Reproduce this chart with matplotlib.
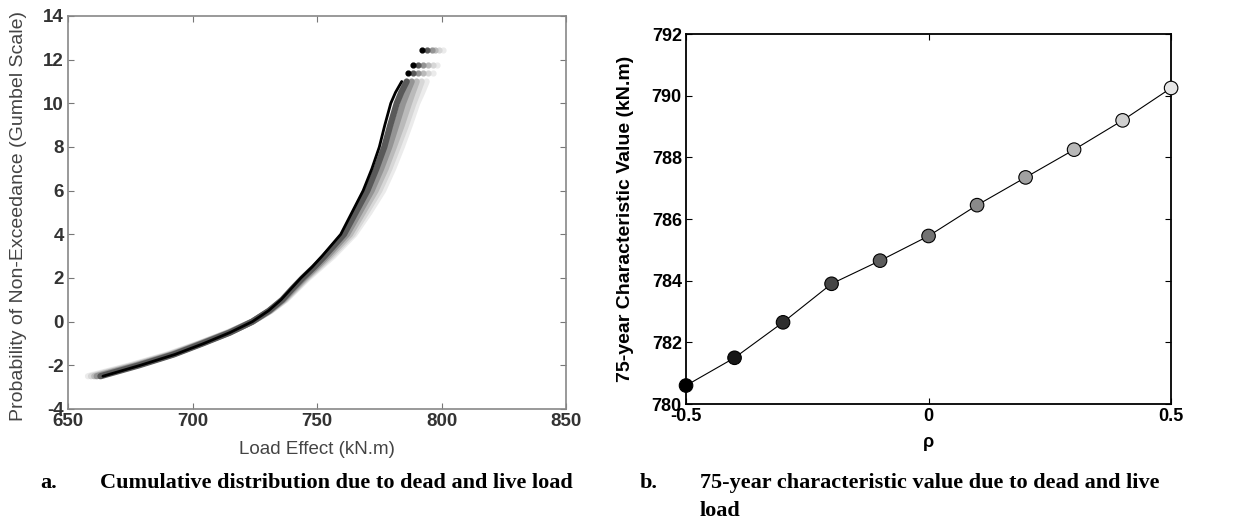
import numpy as np
import matplotlib
matplotlib.use('Agg')
import matplotlib.pyplot as plt

# --- data ---
rho = [-0.5, -0.4, -0.3, -0.2, -0.1, 0.0, 0.1, 0.2, 0.3, 0.4, 0.5]
char_value = [780.6, 781.5, 782.65, 783.9, 784.65, 785.45, 786.45, 787.35, 788.25, 789.2, 790.25]

# panel a: Gumbel reduced variate levels and load effect of a few rho curves there
gumbel_y = [-2.5, -2, -1.5, -1, -0.5, 0, 0.5, 1, 1.5, 2, 2.5, 3, 4, 5, 6, 7, 8, 9, 10, 10.5, 11]
curve_rho = [-0.5, -0.3, -0.1, 0.1, 0.3, 0.5]
load_x = [
    [664.0, 679.0, 693.0, 704.5, 715.0, 724.0, 730.5, 735.5, 739.5, 743.5, 748.0, 752.0, 759.5, 764.0, 768.5, 772.0, 775.0, 777.2, 779.6, 781.5, 784.0],
    [663.0, 678.5, 692.5, 704.0, 715.0, 724.0, 730.7, 736.0, 740.0, 744.2, 748.8, 753.0, 760.8, 765.5, 770.2, 773.8, 777.0, 779.4, 782.0, 783.8, 786.0],
    [661.5, 677.5, 692.0, 703.5, 714.8, 724.0, 731.0, 736.4, 740.6, 744.9, 749.6, 754.0, 762.0, 767.0, 771.9, 775.7, 779.0, 781.8, 784.5, 786.2, 788.0],
    [660.5, 676.8, 691.3, 703.2, 714.5, 724.0, 731.2, 736.8, 741.2, 745.5, 750.3, 754.9, 763.2, 768.4, 773.5, 777.5, 780.8, 784.0, 786.9, 788.4, 790.0],
    [659.2, 675.8, 690.6, 702.8, 714.2, 724.0, 731.4, 737.2, 741.6, 746.0, 750.9, 755.7, 764.2, 769.7, 775.0, 779.0, 782.4, 785.7, 788.7, 790.4, 792.0],
    [658.0, 675.0, 690.0, 702.5, 714.0, 724.0, 731.5, 737.5, 742.0, 746.5, 751.5, 756.5, 765.0, 771.0, 776.5, 780.5, 784.0, 787.2, 790.2, 792.2, 794.0],
]
curve_shade = [0.0, 0.35, 0.58, 0.73, 0.84, 0.92]

# tied maxima at the top (short horizontal rows of points), one x per curve
tie_levels = [11.4, 11.76, 12.45]
tie_x = [
    [786.5, 788.5, 790.5, 792.5, 794.5, 796.5],
    [788.5, 790.5, 792.5, 794.5, 796.5, 798.0],
    [792.0, 794.0, 796.0, 797.5, 799.0, 800.5],
]

plt.rcParams['font.family'] = ['Liberation Sans', 'DejaVu Sans']
plt.rcParams['axes.unicode_minus'] = False

fig = plt.figure(figsize=(12.33, 5.22), dpi=100)

# ---- panel a ----
ax1 = fig.add_axes([0.0552, 0.2165, 0.4039, 0.7529])
for i in range(len(curve_rho) - 1, -1, -1):
    c = plt.cm.gray(curve_shade[i])
    ax1.plot(load_x[i], gumbel_y, color=c, lw=4.5 if i else 2.0, solid_capstyle='round')
    ax1.scatter([row[i] for row in tie_x], tie_levels, s=12, color=c, zorder=3)
ax1.set_xlim(650, 850)
ax1.set_ylim(-4, 14)
ax1.set_xticks([650, 700, 750, 800, 850])
ax1.set_yticks(range(-4, 15, 2))
ax1.tick_params(direction='in', top=True, right=True, length=4, color='#777777',
                labelsize=13.5, labelcolor='#333333', pad=3)
for lab in ax1.get_xticklabels() + ax1.get_yticklabels():
    lab.set_fontweight('bold')
for s in ax1.spines.values():
    s.set_color('#888888')
    s.set_linewidth(1.2)
ax1.set_xlabel('Load Effect (kN.m)', fontsize=13.5, color='#444444', va='top')
ax1.xaxis.set_label_coords(0.5, -0.082)
ax1.set_ylabel('Probability of Non-Exceedance (Gumbel Scale)', fontsize=14,
               color='#444444')
ax1.yaxis.set_label_coords(-0.082, 0.49)

# ---- panel b ----
ax2 = fig.add_axes([0.5564, 0.226, 0.3934, 0.7088])
shades = plt.cm.gray(np.linspace(0.0, 0.9, len(rho)))
ax2.plot(rho, char_value, color='black', lw=0.8, zorder=2)
ax2.scatter(rho, char_value, s=95, c=shades, edgecolors='black', linewidths=0.8,
            zorder=3, clip_on=False)
ax2.set_xlim(-0.5, 0.5)
ax2.set_ylim(780, 792)
ax2.set_xticks([-0.5, 0, 0.5])
ax2.set_xticklabels(['-0.5', '0', '0.5'])
ax2.set_yticks(range(780, 793, 2))
ax2.tick_params(direction='in', top=True, right=True, length=4, labelsize=13, pad=3)
for lab in ax2.get_xticklabels() + ax2.get_yticklabels():
    lab.set_fontweight('bold')
for s in ax2.spines.values():
    s.set_linewidth(1.3)
ax2.set_xlabel('ρ', fontsize=13, fontweight='bold', va='top')
ax2.xaxis.set_label_coords(0.5, -0.082)
ax2.set_ylabel('75-year Characteristic Value (kN.m)', fontsize=14, fontweight='bold')
ax2.yaxis.set_label_coords(-0.108, 0.5)

# ---- captions ----
cap = dict(fontsize=16, fontweight='bold', family='Liberation Serif', va='center')
fig.text(40 / 1233, 1 - 483 / 522, 'a.', **cap)
fig.text(100 / 1233, 1 - 483 / 522, 'Cumulative distribution due to dead and live load', **cap)
fig.text(640 / 1233, 1 - 483 / 522, 'b.', **cap)
fig.text(700 / 1233, 1 - 483 / 522, '75-year characteristic value due to dead and live', **cap)
fig.text(700 / 1233, 1 - 511 / 522, 'load', **cap)

fig.savefig('out.png', dpi=100)
